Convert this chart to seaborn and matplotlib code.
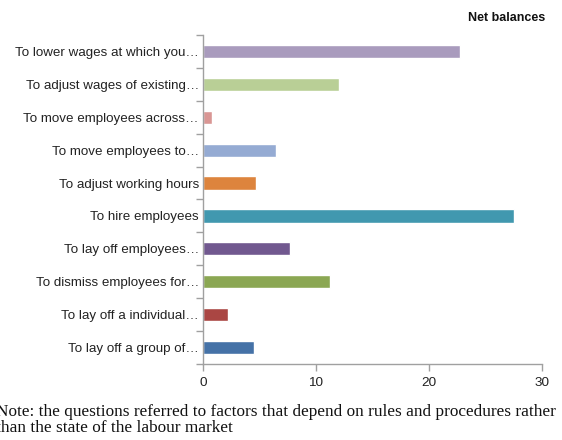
import matplotlib
matplotlib.use("Agg")
import matplotlib.pyplot as plt
from matplotlib.ticker import FixedLocator, NullFormatter
import seaborn as sns
import pandas as pd

categories = [
    "To lower wages at which you\u2026",
    "To adjust wages of existing\u2026",
    "To move employees across\u2026",
    "To move employees to\u2026",
    "To adjust working hours",
    "To hire employees",
    "To lay off employees\u2026",
    "To dismiss employees for\u2026",
    "To lay off a individual\u2026",
    "To lay off a group of\u2026",
]
net_balances = [22.7, 12.0, 0.8, 6.5, 4.7, 27.5, 7.7, 11.2, 2.2, 4.5]
bar_colors = [
    "#A99BBD", "#B9CF96", "#D99694", "#95ABD3", "#DD843D",
    "#4198AF", "#71588F", "#8BA753", "#AA4643", "#4572A7",
]
x_ticks = [0, 10, 20, 30]

df = pd.DataFrame({"factor": categories, "value": net_balances})

sns.set_theme(style="white")
plt.rcParams["font.family"] = ["Liberation Sans", "DejaVu Sans"]

fig = plt.figure(figsize=(5.62, 4.40), dpi=100)
ax = fig.add_axes([0.3612, 0.1727, 0.6032, 0.7478])

sns.barplot(
    data=df, y="factor", x="value", hue="factor", order=categories,
    palette=bar_colors, orient="h", width=0.4, legend=False,
    saturation=1, ax=ax,
)

ax.set_xlim(0, 30)
ax.set_ylim(len(categories) - 0.5, -0.5)
ax.set_xticks(x_ticks)
ax.set_xticklabels([str(t) for t in x_ticks], fontsize=9.7, color="#222222")
ax.set_xlabel("")
ax.set_ylabel("")

spine_color = "#A0A0A0"
for side in ["top", "right"]:
    ax.spines[side].set_visible(False)
for side in ["left", "bottom"]:
    ax.spines[side].set_color(spine_color)
    ax.spines[side].set_linewidth(1.0)

# category labels without marks; tick marks sit on category boundaries
ax.tick_params(axis="y", which="major", length=0, pad=3, labelsize=9.6,
               labelcolor="#222222")
ax.yaxis.set_minor_locator(FixedLocator([i - 0.5 for i in range(len(categories) + 1)]))
ax.yaxis.set_minor_formatter(NullFormatter())
ax.tick_params(axis="y", which="minor", left=True, length=5, width=1.0,
               color=spine_color, direction="out")
ax.tick_params(axis="x", which="major", bottom=True, length=5, width=1.0,
               color=spine_color, direction="out", pad=4)

fig.text(545 / 562, 1 - 18 / 440, "Net balances", ha="right", va="center",
         fontsize=9, fontweight="bold", color="#111111")

note = ("Note: the questions referred to factors that depend on rules and procedures rather\n"
        "than the state of the labour market")
fig.text(-4 / 562, 1 - 404 / 440, note, ha="left", va="top",
         fontsize=12.4, family=["Liberation Serif", "DejaVu Serif"],
         color="#111111", linespacing=1.02)

fig.savefig("out.png", dpi=100)
